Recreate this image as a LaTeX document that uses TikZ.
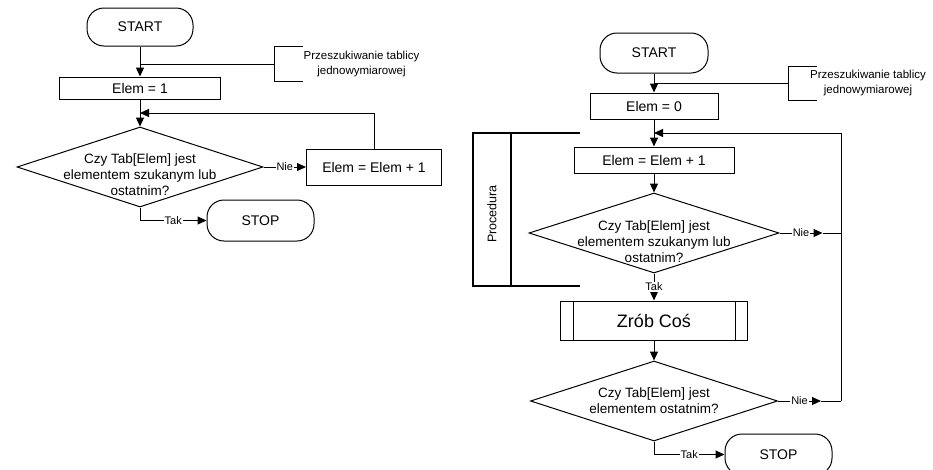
\documentclass[tikz,border=0pt]{standalone}
\usepackage{fontspec}
\setmainfont{Liberation Sans}
\usetikzlibrary{arrows.meta,positioning,shapes.geometric,calc}

\begin{document}
\begin{tikzpicture}[x=1pt,y=1pt,line width=1pt,
  arr/.style={-{Triangle[length=9pt,width=8pt]}},
  terminal/.style={draw,rectangle,rounded corners=17pt,minimum width=106pt,minimum height=38pt,font=\fontsize{14}{16}\selectfont},
  process/.style={draw,rectangle,font=\fontsize{14}{16}\selectfont},
  decision/.style={draw,diamond,inner sep=0pt},
  dtext/.style={align=center,font=\fontsize{13.5}{16}\selectfont},
  lbl/.style={fill=white,inner sep=1pt,font=\fontsize{11}{13}\selectfont},
  note/.style={align=center,font=\fontsize{11.5}{15}\selectfont},
  proc/.style={line width=2.6pt}]

\useasboundingbox (0,0) rectangle (933,-469);

% left chart
\node[terminal] (start1) at (140,-27) {START};
\node[process,minimum width=161pt,minimum height=22pt] (elem1) [below of=start1,node distance=61pt] {Elem = 1};
\node[decision,minimum width=246pt,minimum height=80pt] (dec1) [below of=elem1,node distance=79pt] {};
\node[dtext,yshift=-8pt] (dec1t) at (dec1) {Czy Tab[Elem] jest\\elementem szukanym lub\\ostatnim?};
\node[process,minimum width=135pt,minimum height=36pt] (inc1) [right of=dec1,node distance=234pt] {Elem = Elem + 1};
\node[terminal,minimum width=107pt,minimum height=41pt] (stop1) at (260.5,-220.5) {STOP};
\node[note] (note1) at (361.5,-64.5) {Przeszukiwanie tablicy\\jednowymiarowej};
\coordinate (br1) at (274,-64);

\draw[arr] (start1) -- (elem1);
\draw (start1 |- br1) -- (br1);
\draw (303,-46) -- (274,-46) -- (274,-81) -- (303,-81);
\draw[arr] (elem1) -- (dec1);
\draw[arr] (dec1.east) -- node[lbl] {Nie} (inc1.west);
\draw[arr] (inc1.north) |- ($(elem1.south)!.5!(dec1.north)$);
\draw[arr] (dec1.south) |- node[lbl,pos=.75] {Tak} (stop1.west);

% right chart
\node[terminal,minimum width=108pt,minimum height=40pt] (start2) at (654,-53) {START};
\node[process,minimum width=128pt,minimum height=26pt] (elem0) [below of=start2,node distance=53pt] {Elem = 0};
\node[process,minimum width=160pt,minimum height=26pt] (inc2) [below of=elem0,node distance=54pt] {Elem = Elem + 1};
\node[decision,minimum width=250pt,minimum height=80pt] (dec2) [below of=inc2,node distance=73pt] {};
\node[dtext,yshift=-9pt] (dec2t) at (dec2) {Czy Tab[Elem] jest\\elementem szukanym lub\\ostatnim?};
\node[process,minimum width=187pt,minimum height=39pt,font=\fontsize{18}{20}\selectfont] (zrob) [below of=dec2,node distance=87.5pt] {Zrób Coś};
\node[decision,minimum width=247pt,minimum height=80pt] (dec3) [below of=zrob,node distance=80.5pt] {};
\node[dtext] (dec3t) at (dec3) {Czy Tab[Elem] jest\\elementem ostatnim?};
\node[terminal,minimum width=107pt,minimum height=41pt] (stop2) at (778.5,-454.5) {STOP};
\node[note] (note2) at (868,-83.5) {Przeszukiwanie tablicy\\jednowymiarowej};
\node[rotate=90,font=\fontsize{12.5}{15}\selectfont] (proctxt) at (492,-214) {Procedura};
\coordinate (br2) at (788,-83);
\coordinate (rail) at (841,-133);

\draw[arr] (start2) -- (elem0);
\draw (start2 |- br2) -- (br2);
\draw (817,-66) -- (788,-66) -- (788,-100) -- (817,-100);
\draw[arr] (elem0) -- (inc2);
\draw[arr] (rail) -- (elem0.south |- rail);
\draw (rail) -- (rail |- dec3.east);
\draw[arr] (inc2) -- (dec2);
\draw[arr] (dec2.east) -- node[lbl] {Nie} ++(43,0) coordinate (nie2);
\draw (nie2) -- (nie2 -| rail);
\draw[arr] (dec2) -- node[lbl] {Tak} (zrob);
\draw ([xshift=13pt]zrob.north west) -- ([xshift=13pt]zrob.south west);
\draw ([xshift=-13pt]zrob.north east) -- ([xshift=-13pt]zrob.south east);
\draw[arr] (zrob) -- (dec3);
\draw[arr] (dec3.east) -- node[lbl] {Nie} ++(43,0) coordinate (nie3);
\draw (nie3) -- (nie3 -| rail);
\draw[arr] (dec3.south) |- node[lbl,pos=.75] {Tak} (stop2.west);

% procedure bracket
\draw[proc] (580,-133) -- (473,-133) -- (473,-286) -- (580,-286);
\draw[proc] (511,-133) -- (511,-286);

\end{tikzpicture}
\end{document}
